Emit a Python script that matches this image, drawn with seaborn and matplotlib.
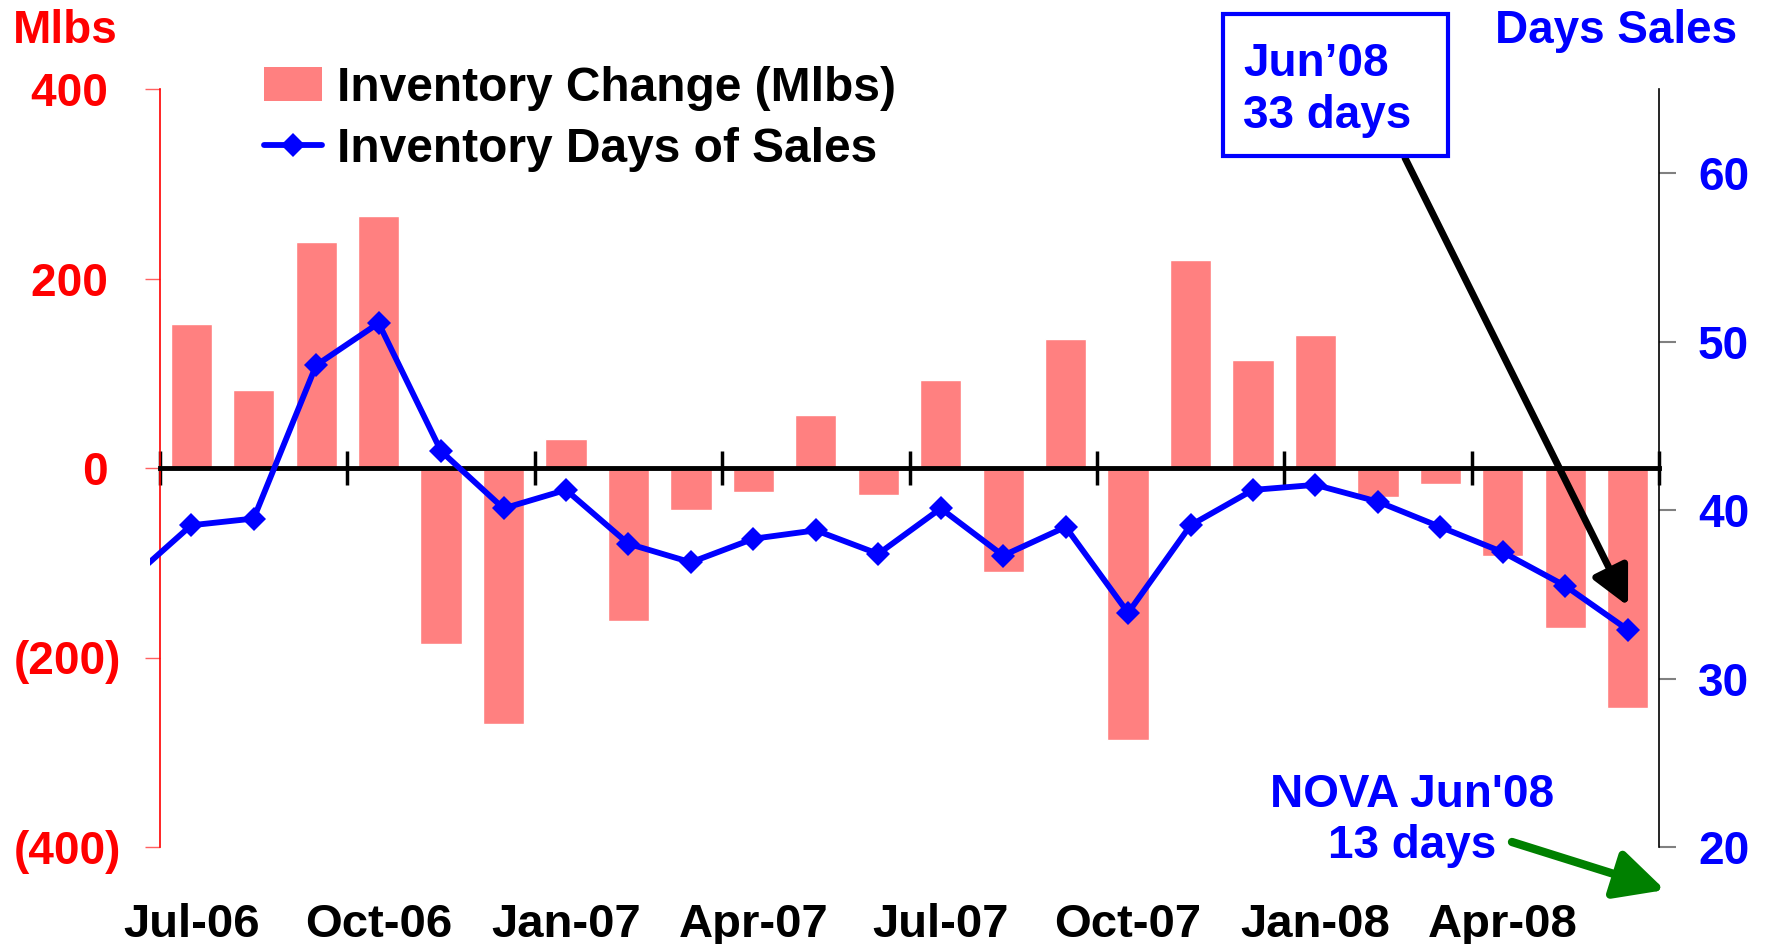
import numpy as np
import pandas as pd
import seaborn as sns
import matplotlib.pyplot as plt
from matplotlib.patches import Patch, Rectangle
from matplotlib.lines import Line2D

# Monthly data, Jul-06 .. Jun-08
months = ['Jul-06', 'Aug-06', 'Sep-06', 'Oct-06', 'Nov-06', 'Dec-06',
          'Jan-07', 'Feb-07', 'Mar-07', 'Apr-07', 'May-07', 'Jun-07',
          'Jul-07', 'Aug-07', 'Sep-07', 'Oct-07', 'Nov-07', 'Dec-07',
          'Jan-08', 'Feb-08', 'Mar-08', 'Apr-08', 'May-08', 'Jun-08']
inventory_change = [152, 82, 238, 266, -186, -270, 31, -161, -44, -25, 56, -28,
                    93, -110, 136, -287, 220, 114, 140, -31, -17, -93, -169, -253]
days_prior = 35.8  # Jun-06, only its segment shows at the left edge
days_of_sales = [39.1, 39.5, 48.6, 51.1, 43.5, 40.1, 41.2, 38.0, 36.9, 38.3, 38.8, 37.4,
                 40.1, 37.3, 39.0, 33.9, 39.1, 41.2, 41.5, 40.5, 39.0, 37.5, 35.5, 32.9]
quarter_labels = ['Jul-06', 'Oct-06', 'Jan-07', 'Apr-07', 'Jul-07', 'Oct-07', 'Jan-08', 'Apr-08']
left_ticks = [-400, -200, 0, 200, 400]
left_tick_labels = ['(400)', '(200)', '0 ', '200 ', '400 ']
right_ticks = [20, 30, 40, 50, 60]

BAR_COLOR = '#FF8080'
BLUE = '#0000FF'
FS = 33

sns.set_theme(style='white')
plt.rcParams['font.family'] = ['Liberation Sans', 'DejaVu Sans']
plt.rcParams['font.weight'] = 'bold'
plt.rcParams['text.color'] = 'black'

W, H = 1767, 944
fig = plt.figure(figsize=(W / 100, H / 100), dpi=100)
ax = fig.add_axes([160 / W, 1 - 847 / H, 1499 / W, 758 / H])

# Bars on the left axis
bar_df = pd.DataFrame({'month': months, 'change': inventory_change})
sns.barplot(data=bar_df, x='month', y='change', order=months, ax=ax,
            color=BAR_COLOR, saturation=1, width=0.66)

# Days of sales line on the right axis
ax2 = ax.twinx()
line_df = pd.DataFrame({'pos': np.arange(-1, len(months)),
                        'days': [days_prior] + days_of_sales})
sns.lineplot(data=line_df, x='pos', y='days', ax=ax2, color=BLUE, linewidth=4.2,
             marker='D', markersize=12.5, markeredgewidth=0)
clip_rect = Rectangle((-0.0067, 0), 1.0134, 1, transform=ax2.transAxes,
                      facecolor='none', edgecolor='none')
ax2.lines[0].set_clip_path(clip_rect)

ax.set_xlim(-0.5, len(months) - 0.5)
ax.set_ylim(-400, 400)
ax2.set_ylim(20, 65)

# Spines
ax.spines['top'].set_visible(False)
ax.spines['right'].set_visible(False)
ax.spines['left'].set_color('red')
ax.spines['left'].set_linewidth(1.2)
ax.spines['bottom'].set_position(('data', 0))
ax.spines['bottom'].set_color('black')
ax.spines['bottom'].set_linewidth(3.5)
for side in ['top', 'left', 'bottom']:
    ax2.spines[side].set_visible(False)
ax2.spines['right'].set_color('black')
ax2.spines['right'].set_linewidth(1.2)

# Ticks
ax.set_xticks(np.arange(-0.5, len(months), 3))
ax.set_xticklabels([])
ax.tick_params(axis='x', bottom=True, direction='inout', length=24, width=2.5, color='black')
ax.set_yticks(left_ticks)
ax.set_yticklabels(left_tick_labels)
ax.tick_params(axis='y', left=True, direction='out', length=11, width=1, color='#FF6060',
               labelcolor='red', labelsize=FS, pad=17)
ax2.set_yticks(right_ticks)
ax2.tick_params(axis='y', right=True, direction='out', length=12, width=1.5, color='#808080',
                labelcolor=BLUE, labelsize=FS, pad=16)
ax.set_xlabel('')
ax.set_ylabel('')
ax2.set_xlabel('')
ax2.set_ylabel('')

for lab in quarter_labels:
    ax.text(months.index(lab), -0.1187, lab, transform=ax.get_xaxis_transform(),
            ha='center', va='baseline', fontsize=34, fontweight='bold', color='black')

fig.text(13 / W, 1 - 43 / H, 'Mlbs', color='red', fontsize=FS, fontweight='bold', va='baseline')
fig.text(1737 / W, 1 - 43 / H, 'Days Sales', color=BLUE, fontsize=FS, fontweight='bold',
         va='baseline', ha='right')

# Legend
handles = [Patch(facecolor=BAR_COLOR, edgecolor='none', label='Inventory Change (Mlbs)'),
           Line2D([], [], color=BLUE, lw=4.2, marker='D', ms=12.5, mew=0,
                  label='Inventory Days of Sales')]
fig.legend(handles=handles, loc='upper left', bbox_to_anchor=(264 / W, 1 - 66 / H),
           frameon=False, fontsize=34.5, handlelength=1.2, handleheight=0.72,
           handletextpad=0.33, labelspacing=0.33, borderpad=0, borderaxespad=0,
           labelcolor='black')

# Callout box for Jun'08
box = Rectangle((1223 / W, 1 - 155.5 / H), 225 / W, 142 / H, transform=fig.transFigure,
                facecolor='white', edgecolor=BLUE, lw=3, zorder=5)
fig.add_artist(box)
fig.text(1243 / W, 1 - 128 / H, 'Jun\u201908\n33 days', color=BLUE, fontsize=FS,
         fontweight='bold', va='baseline', ha='left', zorder=6, linespacing=1.25)

ax2.annotate('', xy=(1628 / W, 1 - 606 / H), xycoords='figure fraction',
             xytext=(1405 / W, 1 - 158 / H), textcoords='figure fraction',
             arrowprops=dict(arrowstyle='-|>,head_length=0.4,head_width=0.2',
                             mutation_scale=58, lw=5, color='black', shrinkA=0, shrinkB=0),
             annotation_clip=False, clip_on=False)

fig.text(1412 / W, 1 - 858 / H, "NOVA Jun'08\n13 days", color=BLUE, fontsize=FS,
         fontweight='bold', va='baseline', ha='center', multialignment='center',
         linespacing=1.2)
ax2.annotate('', xy=(1665 / W, 1 - 890 / H), xycoords='figure fraction',
             xytext=(1512 / W, 1 - 842 / H), textcoords='figure fraction',
             arrowprops=dict(arrowstyle='-|>,head_length=0.4,head_width=0.2',
                             mutation_scale=75, lw=6, color='#008000', shrinkA=0, shrinkB=0),
             annotation_clip=False, clip_on=False)

fig.savefig('out.png', dpi=100)
